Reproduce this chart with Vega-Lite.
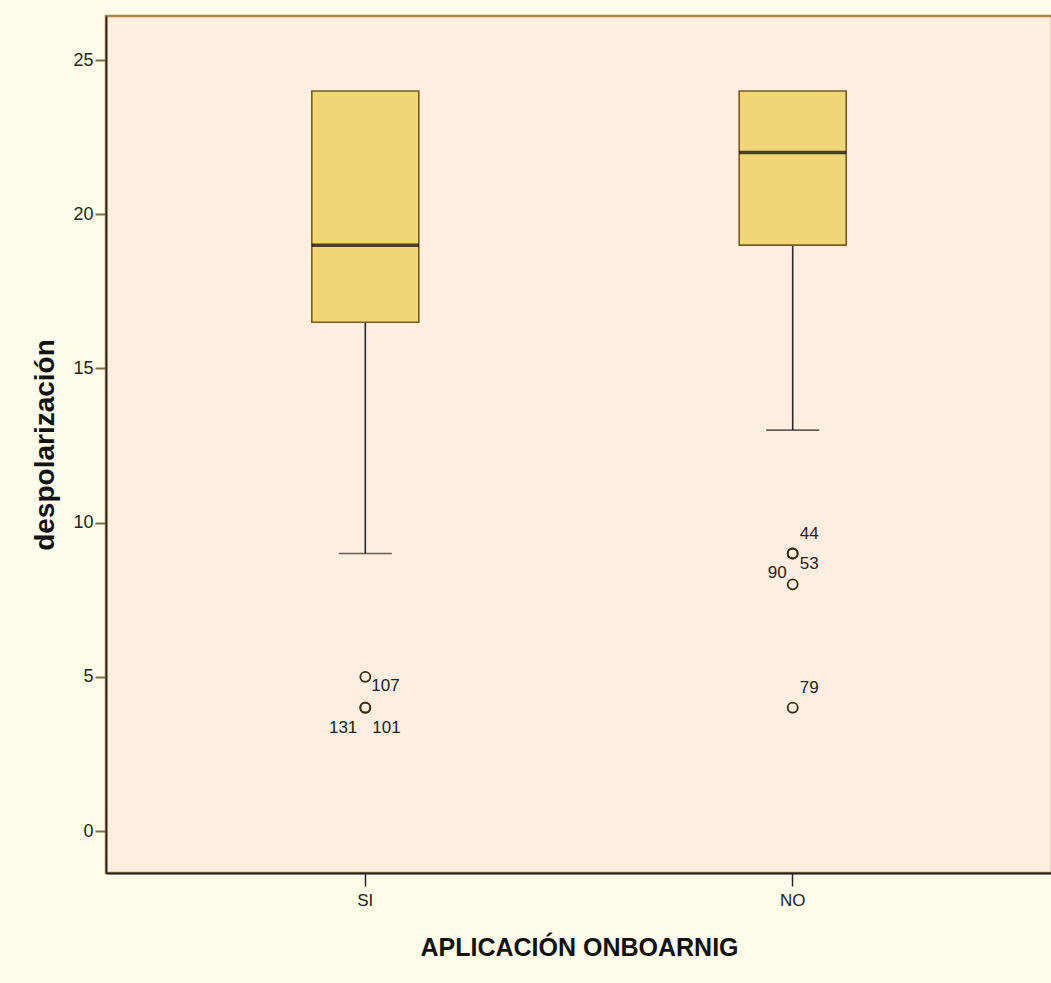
{
  "$schema": "https://vega.github.io/schema/vega-lite/v6.json",
  "autosize": {"type": "none"},
  "padding": {"left": 106, "top": 16, "right": 0, "bottom": 110},
  "width": 946,
  "height": 857,
  "background": "#FEFDEA",
  "config": {
    "view": {"fill": "#FDEEDF", "stroke": "#B08548", "strokeWidth": 2.5},
    "font": "Liberation Sans",
    "axis": {"grid": false, "labelFont": "Liberation Sans", "titleFont": "Liberation Sans", "labelColor": "#222222", "titleColor": "#111111", "domainColor": "#222222", "domainWidth": 1.8}
  },
  "datasets": {
    "boxes": [
      {"group": "SI", "lower": 9, "q1": 16.5, "median": 19, "q3": 24, "upper": 24},
      {"group": "NO", "lower": 13, "q1": 19, "median": 22, "q3": 24, "upper": 24}
    ],
    "outliers": [
      {"group": "SI", "value": 5, "case": "107"},
      {"group": "SI", "value": 4, "case": "101"},
      {"group": "SI", "value": 4, "case": "131"},
      {"group": "NO", "value": 9, "case": "44"},
      {"group": "NO", "value": 9, "case": "53"},
      {"group": "NO", "value": 8, "case": "90"},
      {"group": "NO", "value": 4, "case": "79"}
    ]
  },
  "encoding": {
    "x": {
      "field": "group", "type": "nominal",
      "scale": {"type": "band", "domain": ["SI", "NO"], "paddingInner": 0.5, "paddingOuter": 0.3567},
      "axis": {"title": "APLICACIÓN ONBOARNIG", "labelAngle": 0, "labelFontSize": 17, "tickSize": 13, "tickWidth": 1.5, "tickColor": "#222222", "labelPadding": 6, "titleFontSize": 25, "titleFontWeight": "bold", "titlePadding": 27}
    }
  },
  "layer": [
    {
      "data": {"name": "boxes"},
      "mark": {"type": "rule", "color": "#2A2A2A", "strokeWidth": 1.6},
      "encoding": {
        "y": {"field": "lower", "type": "quantitative",
          "scale": {"domain": [-1.36, 26.43], "nice": false, "zero": false},
          "axis": {"title": "despolarización", "values": [0, 5, 10, 15, 20, 25], "tickSize": 11, "tickColor": "#8A6A3A", "tickWidth": 2, "labelFontSize": 18, "labelPadding": 2, "titleFontSize": 28, "titleFontWeight": "bold", "titlePadding": 13}},
        "y2": {"field": "q1"}
      }
    },
    {
      "data": {"name": "boxes"},
      "mark": {"type": "tick", "orient": "horizontal", "size": 53, "thickness": 1.6, "color": "#222222"},
      "encoding": {"y": {"field": "lower", "type": "quantitative"}}
    },
    {
      "data": {"name": "boxes"},
      "mark": {"type": "rule", "color": "#2A2A2A", "strokeWidth": 1.6},
      "encoding": {"y": {"field": "q3", "type": "quantitative"}, "y2": {"field": "upper"}}
    },
    {
      "data": {"name": "boxes"},
      "mark": {"type": "bar", "width": 107, "fill": "#F1D675", "stroke": "#7A5C22", "strokeWidth": 1.6},
      "encoding": {"y": {"field": "q1", "type": "quantitative"}, "y2": {"field": "q3"}}
    },
    {
      "data": {"name": "boxes"},
      "mark": {"type": "tick", "orient": "horizontal", "size": 107, "thickness": 3.5, "color": "#000000"},
      "encoding": {"y": {"field": "median", "type": "quantitative"}}
    },
    {
      "data": {"name": "outliers"},
      "mark": {"type": "point", "shape": "circle", "size": 100, "filled": false, "stroke": "#3E2C10", "strokeWidth": 1.8, "opacity": 1},
      "encoding": {"y": {"field": "value", "type": "quantitative"}}
    },
    {
      "data": {"name": "outliers"},
      "transform": [{"filter": "datum.case == '107'"}],
      "mark": {"type": "text", "align": "left", "baseline": "middle", "dx": 6, "dy": 9, "fontSize": 17, "color": "#222222"},
      "encoding": {"y": {"field": "value", "type": "quantitative"}, "text": {"field": "case"}}
    },
    {
      "data": {"name": "outliers"},
      "transform": [{"filter": "datum.case == '131'"}],
      "mark": {"type": "text", "align": "right", "baseline": "middle", "dx": -8, "dy": 20, "fontSize": 17, "color": "#222222"},
      "encoding": {"y": {"field": "value", "type": "quantitative"}, "text": {"field": "case"}}
    },
    {
      "data": {"name": "outliers"},
      "transform": [{"filter": "datum.case == '101'"}],
      "mark": {"type": "text", "align": "left", "baseline": "middle", "dx": 7, "dy": 20, "fontSize": 17, "color": "#222222"},
      "encoding": {"y": {"field": "value", "type": "quantitative"}, "text": {"field": "case"}}
    },
    {
      "data": {"name": "outliers"},
      "transform": [{"filter": "datum.case == '44' || datum.case == '79'"}],
      "mark": {"type": "text", "align": "left", "baseline": "middle", "dx": 7, "dy": -20, "fontSize": 17, "color": "#222222"},
      "encoding": {"y": {"field": "value", "type": "quantitative"}, "text": {"field": "case"}}
    },
    {
      "data": {"name": "outliers"},
      "transform": [{"filter": "datum.case == '53'"}],
      "mark": {"type": "text", "align": "left", "baseline": "middle", "dx": 7, "dy": 10, "fontSize": 17, "color": "#222222"},
      "encoding": {"y": {"field": "value", "type": "quantitative"}, "text": {"field": "case"}}
    },
    {
      "data": {"name": "outliers"},
      "transform": [{"filter": "datum.case == '90'"}],
      "mark": {"type": "text", "align": "right", "baseline": "middle", "dx": -6, "dy": -11, "fontSize": 17, "color": "#222222"},
      "encoding": {"y": {"field": "value", "type": "quantitative"}, "text": {"field": "case"}}
    }
  ]
}
